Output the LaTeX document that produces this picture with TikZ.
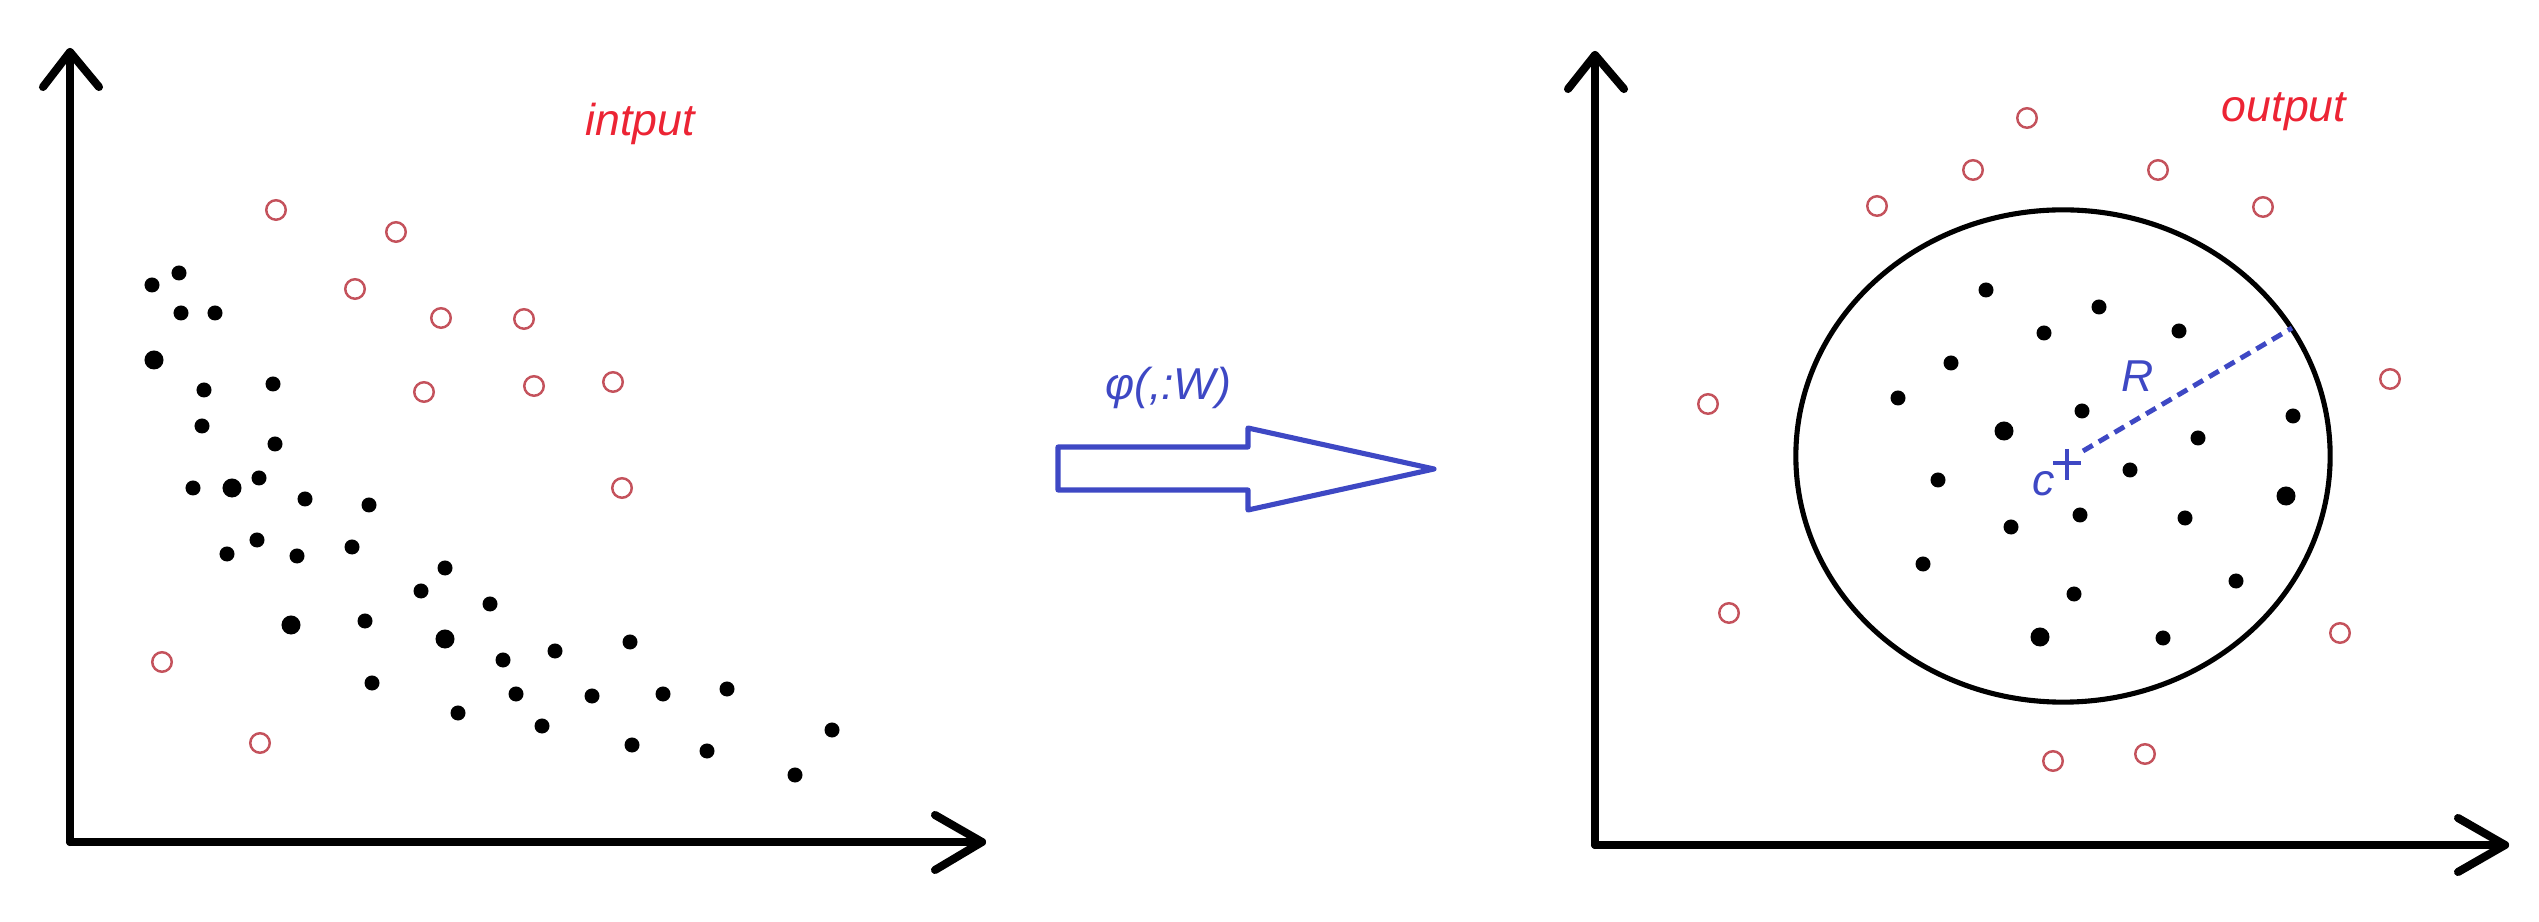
\documentclass[tikz,border=0pt]{standalone}
\usepackage{fontspec}
\setmainfont{Liberation Sans}
\usetikzlibrary{shapes.geometric}
\definecolor{ptred}{RGB}{196,82,92}
\definecolor{txtred}{RGB}{236,36,52}
\definecolor{myblue}{RGB}{62,72,196}
\begin{document}
\begin{tikzpicture}[x=0.01cm,y=-0.01cm,
  axis/.style={line width=2.3pt,line cap=round,line join=round},
  dot/.style={circle,fill=black,inner sep=0pt,minimum size=0.15cm},
  bigdot/.style={circle,fill=black,inner sep=0pt,minimum size=0.19cm},
  ring/.style={circle,draw=ptred,line width=0.7pt,inner sep=0pt,minimum size=0.195cm},
  lbl/.style={inner sep=0pt,font=\fontsize{12.7}{15}\selectfont\itshape}]
\useasboundingbox (0,0) rectangle (2539,922);
% ---- left axes
\coordinate (LO) at (70,842);
\coordinate (LY) at (70,52);
\coordinate (LX) at (982,842);
\draw[axis] (LO) -- (LY);
\draw[axis] (43,87) -- (LY) -- (99,87);
\draw[axis] (LO) -- (LX);
\draw[axis] (935,815) -- (LX) -- (935,870);
% ---- right axes
\coordinate (RO) at (1595,845);
\coordinate (RY) at (1595,55);
\coordinate (RX) at (2505,845);
\draw[axis] (RO) -- (RY);
\draw[axis] (1568,89) -- (RY) -- (1624,89);
\draw[axis] (RO) -- (RX);
\draw[axis] (2458,818) -- (RX) -- (2458,872);
% ---- left labels and points
\node[lbl,text=txtred] (intput) at (640,124) {intput};
\foreach \x/\y [count=\i] in {152/285,179/273,181/313,215/313,204/390,273/384,202/426,275/444,
  193/488,259/478,305/499,369/505,227/554,257/540,297/556,352/547,445/568,421/591,490/604,
  365/621,503/660,555/651,630/642,372/683,458/713,516/694,592/696,663/694,727/689,542/726,
  632/745,707/751,832/730,795/775}
  \node[dot] (ld\i) at (\x,\y) {};
\foreach \x/\y [count=\i] in {154/360,232/488,291/625,445/639}
  \node[bigdot] (lb\i) at (\x,\y) {};
\foreach \x/\y [count=\i] in {276/210,396/232,355/289,441/318,524/319,424/392,534/386,
  613/382,622/488,162/662,260/743}
  \node[ring] (lr\i) at (\x,\y) {};
% ---- block arrow
\draw[myblue,line width=1.45pt,line join=round]
  (1058,447) -- (1248,447) -- (1248,428) -- (1434,469) -- (1248,510) -- (1248,490)
  -- (1058,490) -- cycle;
\node[lbl,text=myblue,anchor=base] (phi) at (1168,400) {φ(,:W)};
% ---- right circle and points
\node[draw,ellipse,line width=1.45pt,minimum width=5.34cm,minimum height=4.92cm,inner sep=0pt] (ball) at (2063,456) {};
\node[lbl,text=txtred] (output) at (2284,112) {output};
\foreach \x/\y [count=\i] in {1986/290,2099/307,2044/333,2179/331,1951/363,1898/398,2082/411,
  2293/416,2198/438,2130/470,1938/480,2080/515,2185/518,2011/527,1923/564,2236/581,
  2074/594,2163/638}
  \node[dot] (rd\i) at (\x,\y) {};
\foreach \x/\y [count=\i] in {2004/431,2286/496,2040/637}
  \node[bigdot] (rb\i) at (\x,\y) {};
\foreach \x/\y [count=\i] in {2027/118,1973/170,2158/170,1877/206,2263/207,1708/404,
  2390/379,1729/613,2340/633,2053/761,2145/754}
  \node[ring] (rr\i) at (\x,\y) {};
% ---- centre, radius
\coordinate (C) at (2067,463);
\coordinate (Rend) at (2292,328);
\draw[myblue,line width=1.4pt] (2053,463) -- (2081,463) (2067,449) -- (2067,480);
\draw[myblue,line width=1.4pt,dash pattern=on 3.2pt off 2pt] (2083,451) -- (Rend);
\node[lbl,text=myblue] (clbl) at (2044,484) {c};
\node[lbl,text=myblue] (Rlbl) at (2138,376) {R};
\end{tikzpicture}
\end{document}
